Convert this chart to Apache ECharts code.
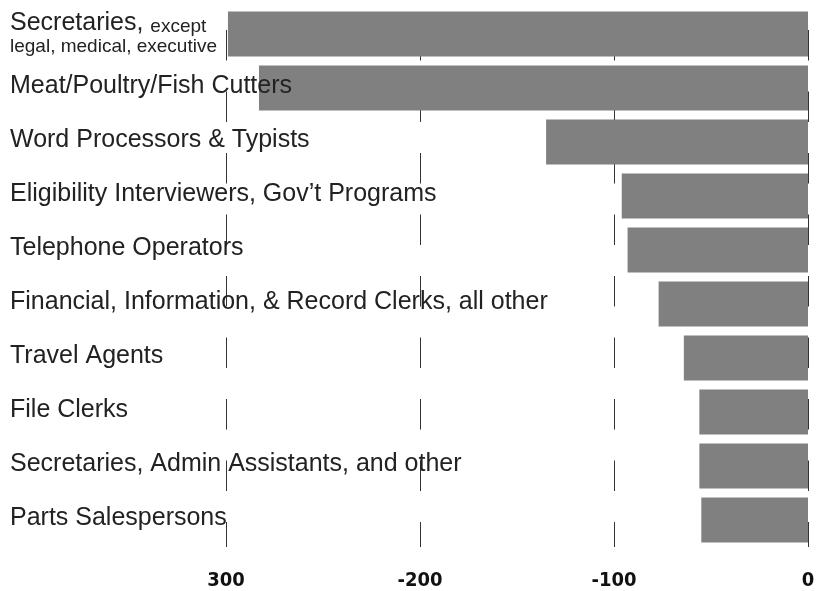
<!DOCTYPE html>
<html>
<head>
<meta charset="utf-8">
<script src="https://cdn.jsdelivr.net/npm/echarts@6/dist/echarts.min.js"></script>
<style>
html,body{margin:0;padding:0;background:#fff;}
#chart{width:818px;height:591px;}
</style>
</head>
<body>
<div id="chart"></div>
<script>
var categories = [
  "Secretaries, except legal, medical, executive",
  "Meat/Poultry/Fish Cutters",
  "Word Processors & Typists",
  "Eligibility Interviewers, Gov\u2019t Programs",
  "Telephone Operators",
  "Financial, Information, & Record Clerks, all other",
  "Travel Agents",
  "File Clerks",
  "Secretaries, Admin Assistants, and other",
  "Parts Salespersons"
];
var values = [-299, -283, -135, -96, -93, -77, -64, -56, -56, -55];
var tickValues = [-300, -200, -100, 0];
var tickLabels = ["300", "-200", "-100", "0"];

var chart = echarts.init(document.getElementById('chart'), null, {renderer: 'canvas'});
chart.setOption({
  animation: false,
  backgroundColor: '#ffffff',
  grid: {left: 226, right: 10, top: 7, bottom: 39.5, containLabel: false},
  xAxis: {
    type: 'value',
    min: -300, max: 0, interval: 100,
    axisLine: {show: false},
    axisTick: {show: false},
    axisLabel: {
      margin: 24,
      fontFamily: '"Liberation Sans Narrow", "Arial Narrow", "DejaVu Sans Condensed", "Liberation Sans", sans-serif',
      fontWeight: 'bold',
      fontSize: 20,
      color: '#111',
      formatter: function (v) {
        var i = tickValues.indexOf(v);
        return i >= 0 ? tickLabels[i] : '';
      }
    },
    splitLine: {
      show: true,
      lineStyle: {color: '#333', width: 1, type: [30.5, 31], dashOffset: 38.5}
    }
  },
  yAxis: {
    type: 'category',
    data: categories,
    inverse: true,
    z: 10,
    axisLine: {show: false},
    axisTick: {show: false},
    splitLine: {show: false},
    axisLabel: {
      margin: 216,
      align: 'left',
      color: '#222',
      fontFamily: 'Liberation Sans',
      fontSize: 25,
      formatter: function (v, idx) {
        if (idx === 0) {
          return '{a|Secretaries,} {b|except}\n{c|legal, medical, executive}';
        }
        return '{n|' + v + '}';
      },
      rich: {
        n: {fontSize: 25, fontFamily: 'Liberation Sans', color: '#222', padding: [0, 0, 4, 0]},
        a: {fontSize: 25, fontFamily: 'Liberation Sans', color: '#222', lineHeight: 26, verticalAlign: 'bottom', padding: [4, 0, 0, 0]},
        b: {fontSize: 19, fontFamily: 'Liberation Sans', color: '#222', lineHeight: 22, verticalAlign: 'bottom'},
        c: {fontSize: 19, fontFamily: 'Liberation Sans', color: '#222', lineHeight: 22}
      }
    }
  },
  series: [{
    type: 'bar',
    data: values,
    barWidth: 45,
    itemStyle: {color: '#808080'},
    z: 2
  }]
});
</script>
</body>
</html>
